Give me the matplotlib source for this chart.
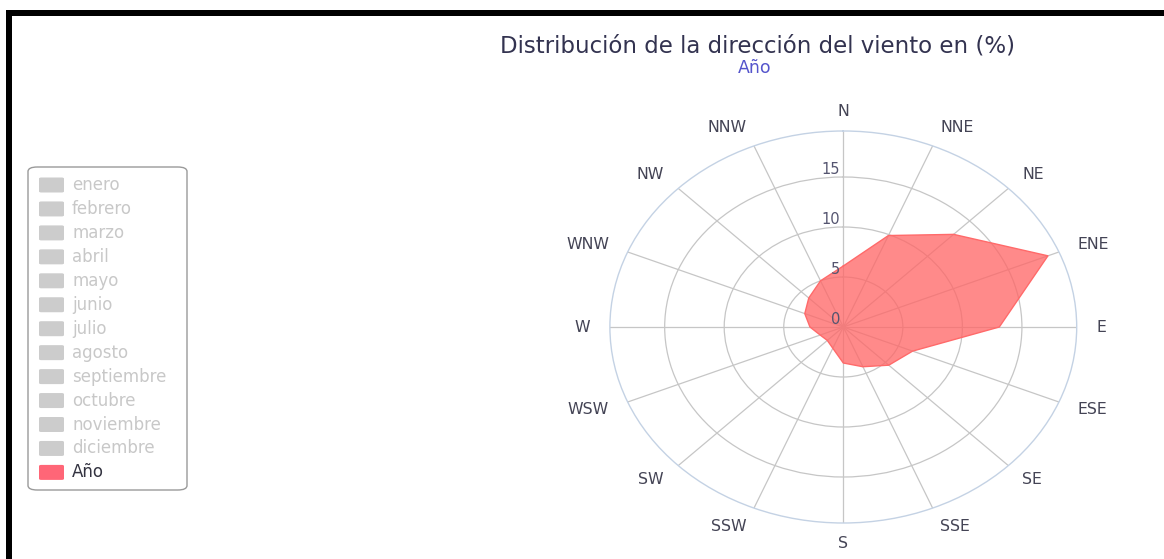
import numpy as np
import matplotlib
matplotlib.use("Agg")
import matplotlib.pyplot as plt
from matplotlib.patches import Rectangle, FancyBboxPatch
from matplotlib.transforms import offset_copy

# ---- data ----
directions = ["N", "NNE", "NE", "ENE", "E", "ESE", "SE", "SSE",
              "S", "SSW", "SW", "WSW", "W", "WNW", "NW", "NNW"]
year_values = [6.1, 9.9, 13.1, 18.6, 13.1, 6.3, 5.4, 4.3,
               3.6, 2.3, 1.9, 2.1, 2.8, 3.5, 4.1, 5.0]
radial_ticks = [0, 5, 10, 15]
legend_labels = ["enero", "febrero", "marzo", "abril", "mayo", "junio", "julio",
                 "agosto", "septiembre", "octubre", "noviembre", "diciembre", "Año"]
title_text = "Distribución de la dirección del viento en (%)"
subtitle_text = "Año"
r_max = 19.6

W, H = 1164, 559
fig = plt.figure(figsize=(W / 100, H / 100), dpi=100)
fig.patch.set_facecolor("white")

def fx(x):
    return x / W

def fy(y):
    return 1 - y / H

# polar axes box (pixels): center (843, 327), half-width 233.4, half-height 196
cx, cy, hw, hh = 843.3, 327.0, 233.4, 196.0
ax = fig.add_axes([fx(cx - hw), fy(cy + hh), 2 * hw / W, 2 * hh / H], projection="polar")
ax.set_aspect("auto")
ax.set_facecolor("none")
ax.set_theta_zero_location("N")
ax.set_theta_direction(-1)
ax.set_ylim(0, r_max)

angles_deg = np.arange(len(directions)) * 360.0 / len(directions)
theta = np.deg2rad(angles_deg)

ax.set_thetagrids(angles_deg, labels=[""] * len(directions))
ax.set_rgrids([5, 10, 15], labels=[""] * 3)
ax.grid(True, color="#C6C6C6", linewidth=0.9)
ax.set_axisbelow(True)
ax.spines["polar"].set_color("#C4D2E4")
ax.spines["polar"].set_linewidth(1.0)
ax.tick_params(axis="both", length=0, pad=0)

# series
th_c = np.append(theta, theta[0])
v_c = np.append(year_values, year_values[0])
ax.fill(th_c, v_c, color="#FF6666", alpha=0.76, linewidth=0, zorder=3)
ax.plot(th_c, v_c, color="#FF6A6A", linewidth=1.0, zorder=4)

# radial tick labels
for t in radial_ticks:
    tr = offset_copy(ax.transData, fig=fig, x=-3, y=7, units="dots")
    ax.text(0, t, str(t), transform=tr, ha="right", va="center",
            fontsize=10.5, color="#555570", zorder=5)

# direction labels
for a, lab in zip(theta, directions):
    s, c = np.sin(a), np.cos(a)
    if s > 0.05:
        ha = "left"
    elif s < -0.05:
        ha = "right"
    else:
        ha = "center"
    tr = offset_copy(ax.transData, fig=fig, x=20 * s, y=20 * c, units="dots")
    ax.text(a, r_max, lab, transform=tr, ha=ha, va="center",
            fontsize=11.3, color="#444455", clip_on=False)

# titles
fig.text(fx(757), fy(46), title_text, ha="center", va="center",
         fontsize=16.5, color="#333350")
fig.text(fx(755), fy(68), subtitle_text, ha="center", va="center",
         fontsize=12.5, color="#5555CC")

# legend
fig.add_artist(FancyBboxPatch((fx(28), fy(490)), fx(187) - fx(28), fy(167) - fy(490),
                              boxstyle="round,pad=0,rounding_size=0.008",
                              transform=fig.transFigure, facecolor="white",
                              edgecolor="#9A9A9A", linewidth=1.0))
for i, lab in enumerate(legend_labels):
    yc = 185 + i * 23.95
    active = (lab == "Año")
    sw_col = "#FF6677" if active else "#CCCCCC"
    tx_col = "#333340" if active else "#C8C8C8"
    fig.add_artist(FancyBboxPatch((fx(39), fy(yc + 7.5)), fx(64) - fx(39), 15 / H,
                                  boxstyle="round,pad=0,rounding_size=0.002",
                                  transform=fig.transFigure, facecolor=sw_col,
                                  edgecolor="none"))
    fig.text(fx(72), fy(yc), lab, ha="left", va="center", fontsize=12,
             color=tx_col)

# outer frame (top and left)
fig.add_artist(Rectangle((fx(6), fy(16)), 1 - fx(6), 6 / H, transform=fig.transFigure,
                         facecolor="black", edgecolor="none"))
fig.add_artist(Rectangle((fx(6), 0), 6 / W, fy(10), transform=fig.transFigure,
                         facecolor="black", edgecolor="none"))

fig.savefig("out.png", dpi=100, facecolor="white")
